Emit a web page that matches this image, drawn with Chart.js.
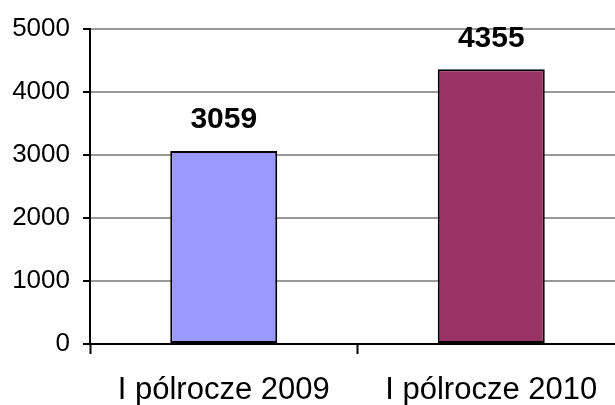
<!DOCTYPE html>
<html>
<head>
<meta charset="utf-8">
<script src="https://cdn.jsdelivr.net/npm/chart.js@4/dist/chart.umd.min.js"></script>
<style>
  html, body { margin: 0; padding: 0; background: #fff; overflow: hidden; }
  #wrap { width: 625px; height: 405px; }
</style>
</head>
<body>
<div id="wrap"><canvas id="chart" width="625" height="405"></canvas></div>
<script>
const categories = ['I pólrocze 2009', 'I pólrocze 2010'];
const values = [3059, 4355];
const barColors = ['#9999FF', '#993366'];
const yTicks = [0, 1000, 2000, 3000, 4000, 5000];

// values printed above the bars
const valueLabels = {
  id: 'valueLabels',
  afterDatasetsDraw(chart) {
    const ctx = chart.ctx;
    const meta = chart.getDatasetMeta(0);
    ctx.save();
    ctx.font = 'bold 30px "Liberation Sans", Arial, sans-serif';
    ctx.fillStyle = '#000';
    ctx.textAlign = 'center';
    ctx.textBaseline = 'bottom';
    meta.data.forEach((bar, i) => {
      ctx.fillText(String(values[i]), bar.x, bar.y - 16);
    });
    ctx.restore();
  }
};

new Chart(document.getElementById('chart'), {
  type: 'bar',
  data: {
    labels: categories,
    datasets: [{
      data: values,
      backgroundColor: barColors,
      borderColor: '#000',
      borderWidth: 2,
      borderSkipped: false,
      barPercentage: 0.4,
      categoryPercentage: 1
    }]
  },
  options: {
    responsive: false,
    animation: false,
    layout: { padding: { top: 28, right: 0, left: 0, bottom: 0 } },
    plugins: { legend: { display: false }, tooltip: { enabled: false } },
    scales: {
      x: {
        grid: { offset: true, drawOnChartArea: false, tickLength: 10, tickColor: '#000', tickWidth: 2 },
        border: { color: '#000', width: 2 },
        ticks: {
          color: '#000',
          padding: 18,
          font: { family: '"Liberation Sans", Arial, sans-serif', size: 31 }
        },
        afterFit(scale) { scale.height = 61; }
      },
      y: {
        min: 0,
        max: 5000,
        afterBuildTicks(scale) { scale.ticks = yTicks.map(v => ({ value: v })); },
        grid: { color: '#999', lineWidth: 2, tickLength: 7, tickColor: '#000', tickWidth: 2 },
        border: { color: '#000', width: 2 },
        ticks: {
          color: '#000',
          padding: 13,
          callback: v => String(v),
          font: { family: '"Liberation Sans", Arial, sans-serif', size: 26 }
        },
        afterFit(scale) { scale.width = 90; }
      }
    }
  },
  plugins: [valueLabels]
});
</script>
</body>
</html>
